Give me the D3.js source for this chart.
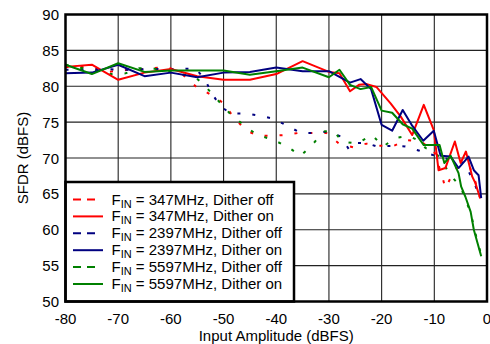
<!DOCTYPE html>
<html>
<head>
<meta charset="utf-8">
<script src="https://cdn.jsdelivr.net/npm/d3@7"></script>
<style>
  body { margin: 0; background: #fff; }
  text { font-family: "Liberation Sans", Arial, sans-serif; }
</style>
</head>
<body>
<svg width="490" height="344"></svg>
<script>
// axis ticks
const xTicks = [-80, -70, -60, -50, -40, -30, -20, -10, 0];
const yTicks = [50, 55, 60, 65, 70, 75, 80, 85, 90];

// [input amplitude dBFS, SFDR dBFS]
const red347Off = [[-80,82.7],[-76.5,82.7],[-72,82.0],[-68,82.3],[-63.5,82.5],[-60.7,82.7],[-58,81.8],[-55.3,80.0],[-52.6,78.9],[-50.1,77.7],[-48.3,75.9],[-46,74.0],[-43.6,73.1],[-41,73.1],[-38.4,73.2],[-35.7,73.5],[-33,73.5],[-30.5,73.5],[-28.1,72.0],[-25.4,71.5],[-22.9,72.0],[-20.2,71.7],[-17.7,71.7],[-15.2,72.5],[-12.6,72.3],[-10.1,71.1],[-8.5,67.4],[-7.9,65.8],[-6,68.5],[-4.5,69.0],[-3.2,68.6],[-2.5,67.4],[-1.3,64.4]];
const red347On = [[-80,82.7],[-75,83.0],[-70,80.9],[-65,81.9],[-60,82.4],[-55,81.4],[-50,80.9],[-45,80.9],[-40,81.7],[-35,83.5],[-30,82.0],[-28,81.8],[-26,79.3],[-24.3,80.2],[-22.8,80.3],[-21,79.9],[-18.3,77.6],[-16.4,75.8],[-14.2,73.2],[-12,77.4],[-10.1,73.9],[-9.2,68.3],[-7.9,68.6],[-6.1,72.3],[-5,69.3],[-4,70.9],[-2.8,67.4],[-2.2,66.5],[-1.3,64.4]];
const blue2397Off = [[-80,82.3],[-74,82.4],[-68.6,82.3],[-63.5,82.4],[-58.2,82.4],[-55.3,82.5],[-53.6,81.0],[-52.2,79.0],[-50.7,77.3],[-48.7,76.2],[-45.8,76.2],[-43.3,75.9],[-40.6,75.5],[-37.9,74.5],[-35.4,73.5],[-32.9,73.5],[-30,73.7],[-27.8,73.0],[-26.2,71.2],[-24.7,72.1],[-22.9,72.1],[-20.9,71.6],[-18,71.7],[-15.5,71.6],[-12.8,71.0],[-10.2,70.4],[-6.6,69.7],[-4.2,69.3],[-2.2,66.1],[-1.3,64.4]];
const blue2397On = [[-80,81.8],[-75,81.9],[-70,83.0],[-65,81.4],[-60,81.9],[-55,81.25],[-50,81.9],[-45,82.0],[-40,82.6],[-35,82.1],[-30,82.1],[-26,80.5],[-24,81.0],[-22,79.6],[-20,74.6],[-18,73.8],[-16,76.7],[-14.2,74.5],[-12.1,72.4],[-10.1,73.8],[-8.8,70.3],[-6.9,70.2],[-5.4,68.6],[-3.5,70.2],[-2.5,68.3],[-1.6,67.6],[-1.1,64.4]];
const green5597Off = [[-80,83.0],[-76.6,82.5],[-71.5,81.7],[-68.6,81.8],[-66.1,82.5],[-63.5,82.5],[-58.2,81.7],[-55.3,81.25],[-53.1,79.7],[-50.9,77.9],[-48.7,76.1],[-46,74.5],[-43.6,73.2],[-40.8,72.6],[-37.9,71.6],[-35.4,70.3],[-33.2,71.8],[-31,73.7],[-29.1,73.8],[-27.5,72.3],[-24.7,72.0],[-21.8,73.2],[-19.7,71.6],[-17.4,72.8],[-14.9,73.1],[-12.6,72.3],[-11.7,71.4],[-9.8,70.8],[-8.2,69.3],[-7.3,67.9],[-5,66.0],[-4.1,64.2],[-3.1,62.4],[-2.2,59.5],[-1.1,56.5]];
const green5597On = [[-80,83.0],[-75,81.7],[-70,83.2],[-65,82.0],[-60,82.2],[-50,82.2],[-45,81.6],[-40,82.1],[-35,82.6],[-30,81.25],[-28,82.3],[-26,80.2],[-24,79.6],[-22,79.9],[-20,76.6],[-18,76.3],[-16,74.7],[-14.2,74.1],[-12,71.8],[-9,71.8],[-8.1,69.3],[-6.9,70.3],[-5.4,67.9],[-4.9,66.0],[-4.1,64.6],[-3.1,62.5],[-2.5,60.0],[-1.1,56.3]];

const series = [
    { data: red347Off, color: "#ff0000", dashed: true, freq: "347MHz", dither: "off" },
    { data: red347On, color: "#ff0000", dashed: false, freq: "347MHz", dither: "on" },
    { data: blue2397Off, color: "#000080", dashed: true, freq: "2397MHz", dither: "off" },
    { data: blue2397On, color: "#000080", dashed: false, freq: "2397MHz", dither: "on" },
    { data: green5597Off, color: "#008000", dashed: true, freq: "5597MHz", dither: "off" },
    { data: green5597On, color: "#008000", dashed: false, freq: "5597MHz", dither: "on" }
];

const svg = d3.select("svg");

const x = d3.scaleLinear().domain([-80, 0]).range([65.5, 487]);
const y = d3.scaleLinear().domain([50, 90]).range([301.5, 14.5]);

// grid
svg.append("g").selectAll("line").data(xTicks).join("line")
    .attr("x1", d => x(d)).attr("x2", d => x(d))
    .attr("y1", y(90)).attr("y2", y(50))
    .attr("stroke", "#222").attr("stroke-width", 1.1);
svg.append("g").selectAll("line").data(yTicks).join("line")
    .attr("x1", x(-80)).attr("x2", x(0))
    .attr("y1", d => y(d)).attr("y2", d => y(d))
    .attr("stroke", "#222").attr("stroke-width", 1.1);

// series lines, dashed first so the solid ones sit on top
const line = d3.line().x(d => x(d[0])).y(d => y(d[1]));
const plot = svg.append("g");
const drawOrder = series.filter(s => s.dashed).concat(series.filter(s => !s.dashed));
drawOrder.forEach(s => {
    plot.append("path")
        .datum(s.data)
        .attr("d", line)
        .attr("fill", "none")
        .attr("stroke", s.color)
        .attr("stroke-width", 2)
        .attr("stroke-linejoin", "round")
        .attr("stroke-dasharray", s.dashed ? "3,12" : null);
});

// legend
const lg = svg.append("g");
lg.append("rect")
    .attr("x", x(-80)).attr("y", 182)
    .attr("width", 294 - x(-80)).attr("height", y(50) - 182)
    .attr("fill", "#fff").attr("stroke", "#000").attr("stroke-width", 2.5);

series.forEach((s, i) => {
    const ly = 199.5 + i * 16.9;
    lg.append("line")
        .attr("x1", 73).attr("x2", s.dashed ? 95 : 103)
        .attr("y1", ly).attr("y2", ly)
        .attr("stroke", s.color).attr("stroke-width", 2)
        .attr("stroke-dasharray", s.dashed ? "8,6" : null);
    const t = lg.append("text")
        .attr("x", 111.5).attr("y", ly + 5)
        .attr("font-size", 15).attr("fill", "#000");
    t.append("tspan").text("F");
    t.append("tspan").attr("dy", 3).attr("font-size", 11).text("IN");
    t.append("tspan").attr("dy", -3).text(" = " + s.freq + ", Dither " + s.dither);
});

// plot frame
svg.append("rect")
    .attr("x", x(-80)).attr("y", y(90))
    .attr("width", x(0) - x(-80)).attr("height", y(50) - y(90))
    .attr("fill", "none").attr("stroke", "#000").attr("stroke-width", 2.5);

// tick labels
svg.append("g").selectAll("text").data(xTicks).join("text")
    .attr("x", d => x(d)).attr("y", 323.5)
    .attr("text-anchor", "middle").attr("font-size", 15)
    .text(d => d);
svg.append("g").selectAll("text").data(yTicks).join("text")
    .attr("x", 59).attr("y", d => y(d) + 5.5)
    .attr("text-anchor", "end").attr("font-size", 15)
    .text(d => d);

// axis titles
svg.append("text")
    .attr("x", (x(-80) + x(0)) / 2).attr("y", 340.5)
    .attr("text-anchor", "middle").attr("font-size", 15)
    .text("Input Amplitude (dBFS)");
svg.append("text")
    .attr("transform", `translate(28,${(y(90) + y(50)) / 2}) rotate(-90)`)
    .attr("text-anchor", "middle").attr("font-size", 15)
    .text("SFDR (dBFS)");
</script>
</body>
</html>
